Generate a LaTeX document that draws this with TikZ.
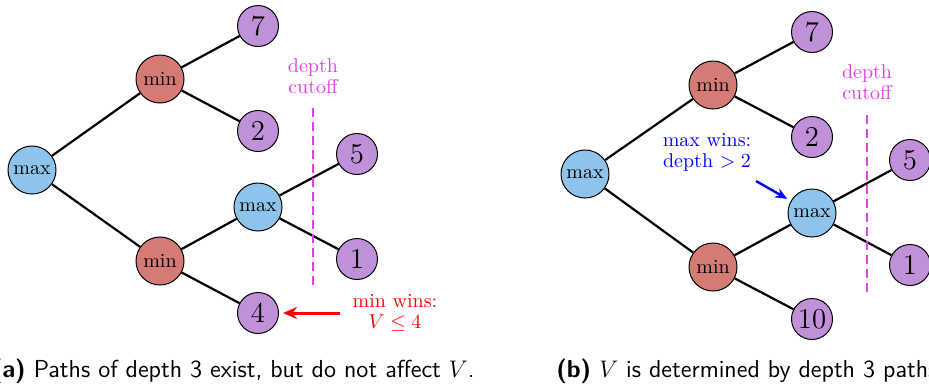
\documentclass[tikz,border=0pt]{standalone}
\usetikzlibrary{arrows.meta}
\definecolor{maxblue}{HTML}{8EC4EB}
\definecolor{minred}{HTML}{D57B76}
\definecolor{leafpurple}{HTML}{C091D8}
\definecolor{cutmag}{HTML}{E040E8}
\tikzset{
  maxnode/.style={circle,draw=black,line width=0.5pt,fill=maxblue,minimum size=24pt,inner sep=0pt,font=\normalsize},
  minnode/.style={circle,draw=black,line width=0.5pt,fill=minred,minimum size=24pt,inner sep=0pt,font=\normalsize},
  leafnode/.style={circle,draw=black,line width=0.5pt,fill=leafpurple,minimum size=20.5pt,inner sep=0pt,font=\Large},
  edge/.style={line width=1.1pt,black},
  cutline/.style={cutmag,line width=1.4pt,dash pattern=on 4.5pt off 2.5pt},
  cuttext/.style={text=cutmag,align=center,font=\normalsize},
  captext/.style={font=\sffamily\fontsize{12.3}{14}\selectfont,inner sep=0pt}
}
\begin{document}
\begin{tikzpicture}[x=0.5pt,y=-0.5pt]
\useasboundingbox (0,0) rectangle (929,387);
% ---------- left panel ----------
\node[maxnode] (LR) at (32,170) {max};
\node[minnode] (LA) at (160,79) {min};
\node[minnode] (LB) at (160,261) {min};
\node[leafnode] (L7) at (258,26) {7};
\node[leafnode] (L2) at (258,131) {2};
\node[maxnode] (LM) at (258,207) {max};
\node[leafnode] (L5) at (357,154) {5};
\node[leafnode] (L1) at (357,259) {1};
\node[leafnode] (L4) at (258,313) {4};
\draw[edge] (LR) -- (LA);
\draw[edge] (LR) -- (LB);
\draw[edge] (LA) -- (L7);
\draw[edge] (LA) -- (L2);
\draw[edge] (LB) -- (LM);
\draw[edge] (LB) -- (L4);
\draw[edge] (LM) -- (L5);
\draw[edge] (LM) -- (L1);
\coordinate (LCt) at (313,108);
\coordinate (LCb) at (313,290);
\draw[cutline] (LCt) -- (LCb);
\node[cuttext] (LCtext) at (313,76) {depth\\[-1.5pt]cutoff};
\node[text=red,align=center] (LWin) at (395,313) {min wins:\\[-1.5pt]$V\leq 4$};
\coordinate (LArr) at (340,313);
\draw[red,line width=1.5pt,-{Stealth[length=7pt,width=6pt]},shorten >=2pt] (LArr) -- (L4);
\node[captext,anchor=base east] (capA) at (475,377) {\textbf{(a)} Paths of depth 3 exist, but do not affect $V$.};
% ---------- right panel ----------
\node[maxnode] (RR) at (585,174) {max};
\node[minnode] (RA) at (713,85) {min};
\node[minnode] (RB) at (713,267) {min};
\node[leafnode] (R7) at (812,32) {7};
\node[leafnode] (R2) at (812,137) {2};
\node[maxnode] (RM) at (812,213) {max};
\node[leafnode] (R5) at (910,160) {5};
\node[leafnode] (R1) at (910,265) {1};
\node[leafnode] (R10) at (812,319) {10};
\draw[edge] (RR) -- (RA);
\draw[edge] (RR) -- (RB);
\draw[edge] (RA) -- (R7);
\draw[edge] (RA) -- (R2);
\draw[edge] (RB) -- (RM);
\draw[edge] (RB) -- (R10);
\draw[edge] (RM) -- (R5);
\draw[edge] (RM) -- (R1);
\coordinate (RCt) at (867,115);
\coordinate (RCb) at (867,297);
\draw[cutline] (RCt) -- (RCb);
\node[cuttext] (RCtext) at (867,82) {depth\\[-1.5pt]cutoff};
\node[text=blue,align=center] (RWin) at (707,152) {max wins:\\[-1.5pt]depth $>2$};
\coordinate (RArr) at (756,181);
\draw[blue,line width=1.2pt,-{Stealth[length=6pt,width=5pt]},shorten >=2pt] (RArr) -- (RM);
\node[captext,anchor=base west] (capB) at (556,377) {\textbf{(b)} $V$ is determined by depth 3 paths.};
\end{tikzpicture}
\end{document}
